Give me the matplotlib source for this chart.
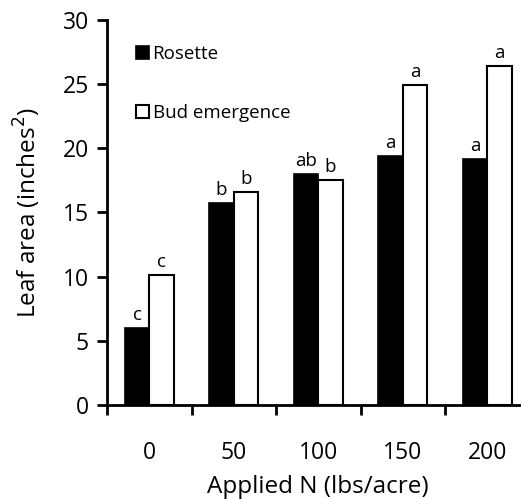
import numpy as np
import matplotlib
import matplotlib.pyplot as plt
matplotlib.use('Agg')

plt.rcParams['font.family'] = ['Open Sans', 'DejaVu Sans']

# leaf area by applied N rate
n_rates = ['0', '50', '100', '150', '200']
rosette = [6.0, 15.7, 18.0, 19.4, 19.15]
bud = [10.1, 16.6, 17.5, 24.9, 26.4]
rosette_letters = ['c', 'b', 'ab', 'a', 'a']
bud_letters = ['c', 'b', 'b', 'a', 'a']

x = np.arange(len(n_rates))
w = 0.29

fig = plt.figure(figsize=(5.21, 4.99), dpi=100)
ax = fig.add_axes([0.2054, 0.1884, 0.811, 0.7716])

b1 = ax.bar(x - w / 2, rosette, w, color='black', edgecolor='black', linewidth=1.2, label='Rosette')
b2 = ax.bar(x + w / 2, bud, w, color='white', edgecolor='black', linewidth=1.5, label='Bud emergence')

for rect, lab in zip(b1, rosette_letters):
    ax.annotate(lab, (rect.get_x() + rect.get_width() / 2, rect.get_height()),
                xytext=(0, 3), textcoords='offset points', ha='center', va='bottom', fontsize=13.5)
for rect, lab in zip(b2, bud_letters):
    ax.annotate(lab, (rect.get_x() + rect.get_width() / 2, rect.get_height()),
                xytext=(0, 3), textcoords='offset points', ha='center', va='bottom', fontsize=13.5)

ax.set_xlim(-0.5, len(n_rates) - 0.5)
ax.set_ylim(0, 30)
ax.set_yticks([0, 5, 10, 15, 20, 25, 30])
ax.set_xticks(x)
ax.set_xticklabels(n_rates)
ax.set_xticks(np.arange(len(n_rates)) - 0.5, minor=True)
ax.tick_params(axis='x', which='major', length=0, pad=26, labelsize=16.5)
ax.tick_params(axis='x', which='minor', length=7, width=2, direction='out')
ax.tick_params(axis='y', length=7, width=2, direction='out', labelsize=16.5, pad=6)

for s in ['top', 'right']:
    ax.spines[s].set_visible(False)
ax.spines['left'].set_linewidth(2)
ax.spines['bottom'].set_linewidth(2)

ax.set_xlabel('Applied N (lbs/acre)', fontsize=17.5, labelpad=7)
ax.set_ylabel('Leaf area (inches$^2$)', fontsize=17.5, labelpad=14)

ax.legend(loc='upper left', bbox_to_anchor=(0.05, 0.955), frameon=False, fontsize=13.5,
          handlelength=0.7, handleheight=0.7, handletextpad=0.2, labelspacing=2.2,
          borderaxespad=0)

fig.savefig('out.png', dpi=100)
